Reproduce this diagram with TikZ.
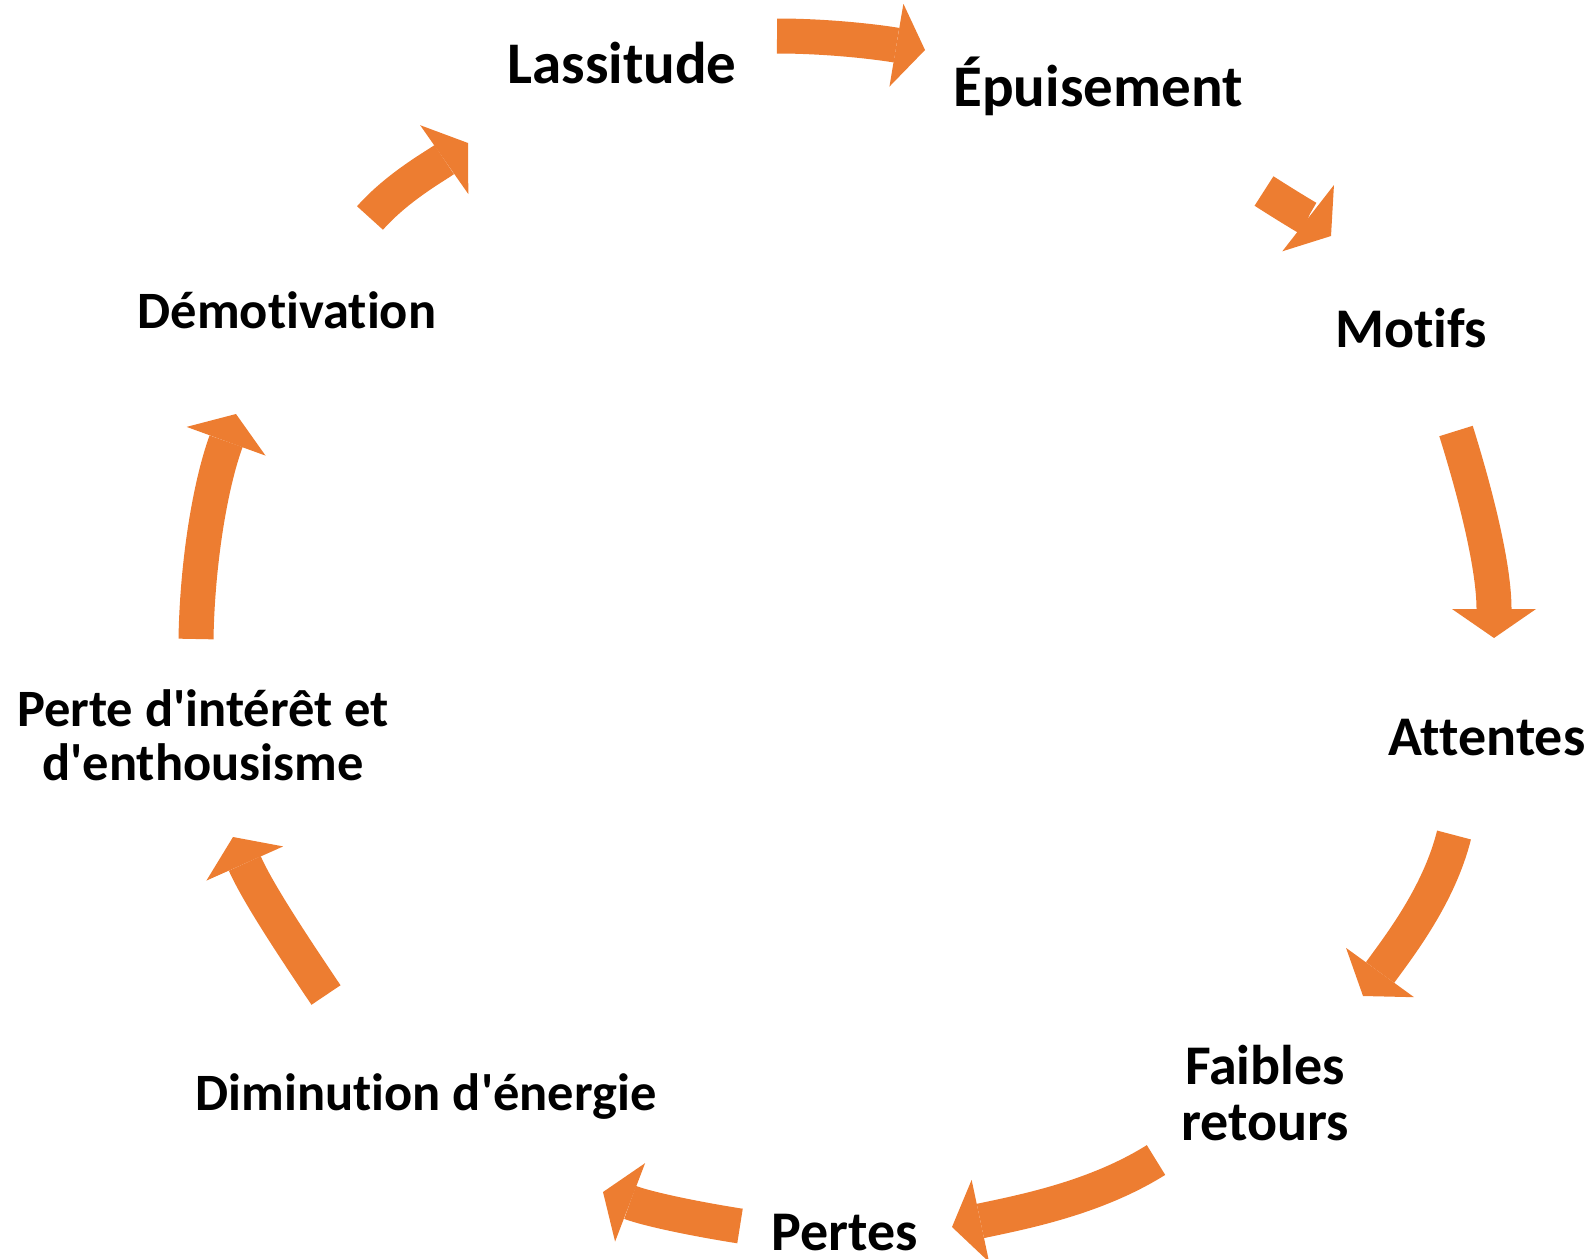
\documentclass[tikz,border=0pt]{standalone}
\usepackage{fontspec}
\setmainfont{Carlito}[Ligatures={TeXOff,CommonOff}]
\usetikzlibrary{arrows.meta}
\definecolor{orng}{HTML}{ED7D31}
\tikzset{
  lbl/.style={inner sep=0pt, anchor=base, align=center, text=black},
  lbig/.style={lbl, font=\bfseries\fontsize{59}{58}\selectfont},
  lmid/.style={lbl, font=\bfseries\fontsize{56}{55.7}\selectfont},
  lsmall/.style={lbl, font=\bfseries\fontsize{52.5}{53.7}\selectfont},
  cyc/.style={draw=orng, line width=35pt, -{Triangle[width=84pt,length=29pt,line width=0pt]}}
}
\begin{document}
\begin{tikzpicture}[x=1pt,y=-1pt]
\path[use as bounding box] (0,0) rectangle (1589,1258);
% labels
\node[lbig] (las) at (622,83) {Lassitude};
\node[lbig] (epu) at (1098,106) {Épuisement};
\node[lmid] (mot) at (1411,347) {Motifs};
\node[lmid] (att) at (1487,755) {Attentes};
\node[lmid] (fai) at (1265,1140) {Faibles\\retours};
\node[lmid] (per) at (845,1250) {Pertes};
\node[lsmall] (dim) at (426,1110) {Diminution d'énergie};
\node[lsmall] (pin) at (203,780) {Perte d'intérêt et\\d'enthousisme};
\node[lsmall] (dem) at (287,328) {Démotivation};
% arrow ends
\coordinate (a1s) at (777,36);   \coordinate (a1e) at (925,50);
\coordinate (a2s) at (1264,191); \coordinate (a2e) at (1331,236);
\coordinate (a3s) at (1456,431); \coordinate (a3e) at (1494,638);
\coordinate (a4s) at (1454,835); \coordinate (a4e) at (1363,996);
\coordinate (a5s) at (1156,1160);\coordinate (a5e) at (952,1227);
\coordinate (a6s) at (740,1226); \coordinate (a6e) at (603,1192);
\coordinate (a7s) at (326,995);  \coordinate (a7e) at (233,837);
\coordinate (a8s) at (196,639);  \coordinate (a8e) at (236,414);
\coordinate (a9s) at (370,218);  \coordinate (a9e) at (468,143);
% arrows
\draw[cyc] (a1s) .. controls (827,36) and (875.7,41.7) .. (a1e);
\draw[cyc] (a2s) .. controls (1286.7,205.6) and (1309.7,219.4) .. (a2e);
\draw[cyc] (a3s) .. controls (1476.9,497.8) and (1494,568) .. (a3e);
\draw[cyc] (a4s) .. controls (1439,895.1) and (1399.4,945.8) .. (a4e);
\draw[cyc] (a5s) .. controls (1095,1198.2) and (1022.4,1212) .. (a5e);
\draw[cyc] (a6s) .. controls (693.6,1218.7) and (646.9,1208.8) .. (a6e);
\draw[cyc] (a7s) .. controls (291.9,944.4) and (257.8,892.7) .. (a7e);
\draw[cyc] (a8s) .. controls (197.3,563) and (210,485.4) .. (a8e);
\draw[cyc] (a9s) .. controls (397.2,187.3) and (434.4,166.5) .. (a9e);
\end{tikzpicture}
\end{document}
